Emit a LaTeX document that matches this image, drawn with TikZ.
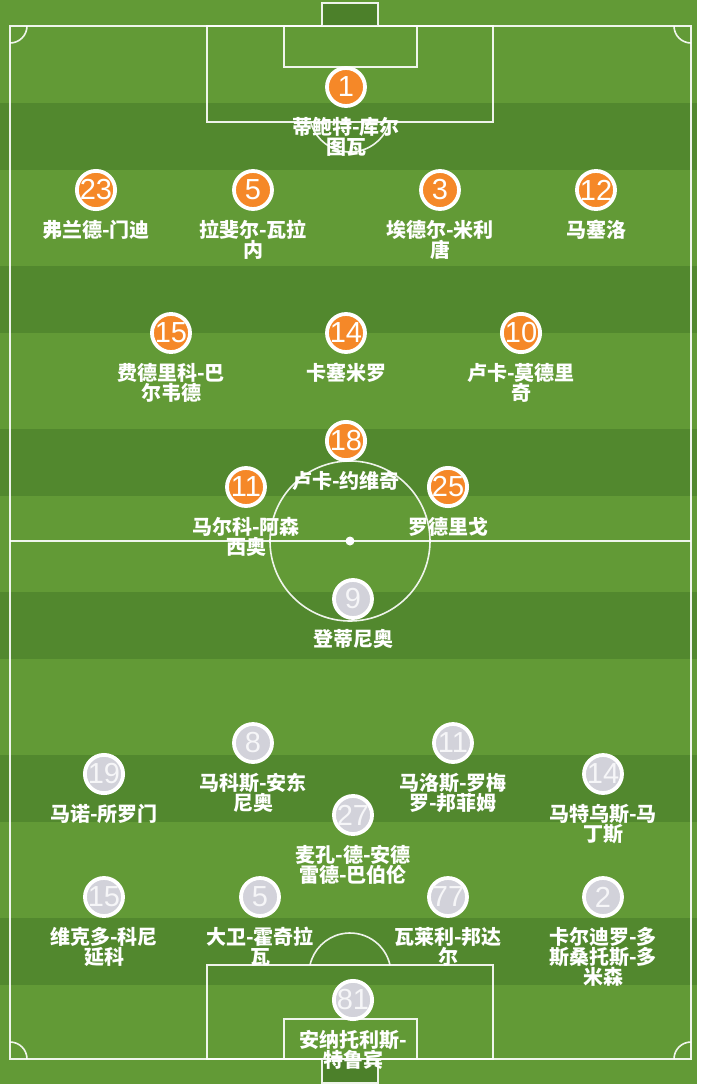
\documentclass[tikz,border=0pt]{standalone}
\usepackage{fontspec}
\setmainfont{Noto Sans CJK SC}
\newfontfamily\numfont{Liberation Sans}
\definecolor{lightg}{RGB}{98,154,54}
\definecolor{darkg}{RGB}{82,136,46}
\definecolor{goalg}{RGB}{76,128,42}
\definecolor{orangep}{RGB}{245,136,40}
\definecolor{greyp}{RGB}{210,210,218}
\definecolor{greyn}{RGB}{246,246,248}
\begin{document}
\begin{tikzpicture}[x=1pt,y=-1pt,
  fieldline/.style={draw=white, line width=1.6pt, draw opacity=0.9},
  plr/.style={circle, draw=white, line width=3.8pt, minimum size=38pt, inner sep=0pt, font=\numfont\fontsize{29}{29}\selectfont},
  pla/.style={plr, fill=orangep, text=white},
  plb/.style={plr, fill=greyp, text=greyn},
  lbl/.style={anchor=north, align=center, text=white, inner sep=0pt, font=\bfseries\fontsize{20}{20}\selectfont}]
\useasboundingbox (0,0) rectangle (704,1084);
% grass
\fill[lightg] (0,0) rectangle (697,1084);
\foreach \k in {0,...,5} \fill[darkg] (0,103+163*\k) rectangle (697,170+163*\k);
\fill[white] (697,0) rectangle (704,1084);
% pitch lines
\draw[fieldline] (10,26) rectangle (691,1059);
\draw[fieldline] (10,541) -- (691,541);
\draw[fieldline] (350,541) circle[radius=80];
\fill[white] (350,541) circle[radius=4.5];
\draw[fieldline] (207,26) rectangle (493,122);
\draw[fieldline] (284,26) rectangle (417,67);
\draw[fieldline, fill=goalg] (322,3) rectangle (378,26);
\draw[fieldline] (350,111) ++(15.56:41) arc[start angle=15.56, end angle=164.44, radius=41];
\draw[fieldline] (207,965) rectangle (493,1059);
\draw[fieldline] (284,1019) rectangle (417,1059);
\draw[fieldline, fill=goalg] (322,1059) rectangle (378,1083);
\draw[fieldline] (350,974) ++(-12.68:41) arc[start angle=-12.68, end angle=-167.32, radius=41];
\draw[fieldline] (10,43) arc[start angle=90, end angle=0, radius=17];
\draw[fieldline] (674,26) arc[start angle=180, end angle=90, radius=17];
\draw[fieldline] (27,1059) arc[start angle=0, end angle=-90, radius=17];
\draw[fieldline] (674,1059) arc[start angle=180, end angle=270, radius=17];
% orange team
\node[pla] (a1) at (346,87) {1};
\node[lbl] (la1) at ([yshift=-30pt]a1.center) {蒂鲍特-库尔\\图瓦};
\node[pla] (a23) at (96,190) {23};
\node[lbl] (la23) at ([yshift=-30pt]a23.center) {弗兰德-门迪};
\node[pla] (a5) at (253,190) {5};
\node[lbl] (la5) at ([yshift=-30pt]a5.center) {拉斐尔-瓦拉\\内};
\node[pla] (a3) at (440,190) {3};
\node[lbl] (la3) at ([yshift=-30pt]a3.center) {埃德尔-米利\\唐};
\node[pla] (a12) at (596,190) {12};
\node[lbl] (la12) at ([yshift=-30pt]a12.center) {马塞洛};
\node[pla] (a15) at (171,333) {15};
\node[lbl] (la15) at ([yshift=-30pt]a15.center) {费德里科-巴\\尔韦德};
\node[pla] (a14) at (346,333) {14};
\node[lbl] (la14) at ([yshift=-30pt]a14.center) {卡塞米罗};
\node[pla] (a10) at (521,333) {10};
\node[lbl] (la10) at ([yshift=-30pt]a10.center) {卢卡-莫德里\\奇};
\node[pla] (a18) at (346,441) {18};
\node[lbl] (la18) at ([yshift=-30pt]a18.center) {卢卡-约维奇};
\node[pla] (a11) at (246,487) {11};
\node[lbl] (la11) at ([yshift=-30pt]a11.center) {马尔科-阿森\\西奥};
\node[pla] (a25) at (448,487) {25};
\node[lbl] (la25) at ([yshift=-30pt]a25.center) {罗德里戈};
% grey team
\node[plb] (b9) at (353,599) {9};
\node[lbl] (lb9) at ([yshift=-30pt]b9.center) {登蒂尼奥};
\node[plb] (b8) at (253,743) {8};
\node[lbl] (lb8) at ([yshift=-30pt]b8.center) {马科斯-安东\\尼奥};
\node[plb] (b11) at (453,743) {11};
\node[lbl] (lb11) at ([yshift=-30pt]b11.center) {马洛斯-罗梅\\罗-邦菲姆};
\node[plb] (b19) at (104,774) {19};
\node[lbl] (lb19) at ([yshift=-30pt]b19.center) {马诺-所罗门};
\node[plb] (b14) at (603,774) {14};
\node[lbl] (lb14) at ([yshift=-30pt]b14.center) {马特乌斯-马\\丁斯};
\node[plb] (b27) at (353,815) {27};
\node[lbl] (lb27) at ([yshift=-30pt]b27.center) {麦孔-德-安德\\雷德-巴伯伦};
\node[plb] (b15) at (104,897) {15};
\node[lbl] (lb15) at ([yshift=-30pt]b15.center) {维克多-科尼\\延科};
\node[plb] (b5) at (260,897) {5};
\node[lbl] (lb5) at ([yshift=-30pt]b5.center) {大卫-霍奇拉\\瓦};
\node[plb] (b77) at (448,897) {77};
\node[lbl] (lb77) at ([yshift=-30pt]b77.center) {瓦莱利-邦达\\尔};
\node[plb] (b2) at (603,897) {2};
\node[lbl] (lb2) at ([yshift=-30pt]b2.center) {卡尔迪罗-多\\斯桑托斯-多\\米森};
\node[plb] (b81) at (353,1000) {81};
\node[lbl] (lb81) at ([yshift=-30pt]b81.center) {安纳托利斯-\\特鲁宾};
\end{tikzpicture}
\end{document}
